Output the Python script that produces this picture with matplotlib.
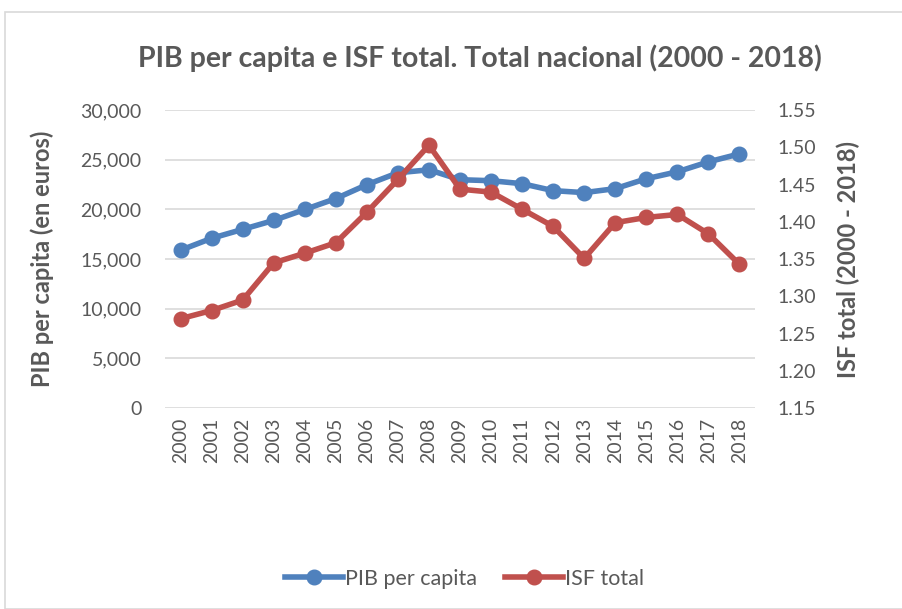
import matplotlib.pyplot as plt
from matplotlib.patches import Rectangle
from matplotlib.ticker import FuncFormatter

# Datos
anios = ['2000', '2001', '2002', '2003', '2004', '2005', '2006', '2007', '2008', '2009',
         '2010', '2011', '2012', '2013', '2014', '2015', '2016', '2017', '2018']
pib_per_capita = [15900, 17100, 18000, 18900, 20000, 21100, 22500, 23700, 24000, 23000,
                  22900, 22600, 21900, 21700, 22100, 23100, 23800, 24800, 25600]
isf_total = [1.270, 1.281, 1.295, 1.345, 1.358, 1.372, 1.413, 1.457, 1.503, 1.444,
             1.440, 1.417, 1.394, 1.351, 1.399, 1.406, 1.410, 1.384, 1.343]

plt.rcParams['font.family'] = ['Lato', 'DejaVu Sans']
gris = '#595959'
azul = '#4F81BD'
rojo = '#C0504D'

fig = plt.figure(figsize=(9.02, 6.09), dpi=100)
fig.patches.append(Rectangle((0.005, 0.0), 1.2, 0.98, transform=fig.transFigure,
                             fill=False, edgecolor='#D9D9D9', linewidth=1.2))

ax = fig.add_axes([0.183, 0.330, 0.654, 0.489])
ax2 = ax.twinx()

x = range(len(anios))
ax.plot(x, pib_per_capita, color=azul, linewidth=4, marker='o', markersize=10.5,
        label='PIB per capita', zorder=3)
ax2.plot(x, isf_total, color=rojo, linewidth=4, marker='o', markersize=10.5,
         label='ISF total', zorder=3)

ax.set_xlim(-0.5, len(anios) - 0.5)
ax.set_ylim(0, 30000)
ax.set_yticks(range(0, 30001, 5000))
ax.yaxis.set_major_formatter(FuncFormatter(lambda v, p: f'{int(v):,}'))
ax2.set_ylim(1.15, 1.55)
ax2.set_yticks([1.15, 1.20, 1.25, 1.30, 1.35, 1.40, 1.45, 1.50, 1.55])
ax2.yaxis.set_major_formatter(FuncFormatter(lambda v, p: f'{v:.2f}'))

ax.set_xticks(list(x))
ax.set_xticklabels(anios, rotation=90)

ax.grid(axis='y', color='#D9D9D9', linewidth=1.2)
ax.set_axisbelow(True)
for a in (ax, ax2):
    for s in a.spines.values():
        s.set_visible(False)
    a.tick_params(length=0, colors=gris, labelsize=14)
ax.tick_params(axis='y', pad=17)
ax2.tick_params(axis='y', pad=16)
ax.tick_params(axis='x', pad=7)

ax.set_ylabel('PIB per capita (en euros)', fontsize=17, fontweight='bold', color=gris, labelpad=19)
ax2.set_ylabel('ISF total (2000 - 2018)', fontsize=17, fontweight='bold', color=gris,
               rotation=90, labelpad=15)

fig.text(0.532, 0.905, 'PIB per capita e ISF total. Total nacional (2000 - 2018)',
         ha='center', va='center', fontsize=20.5, fontweight='bold', color=gris)

h1, l1 = ax.get_legend_handles_labels()
h2, l2 = ax2.get_legend_handles_labels()
fig.legend(h1 + h2, l1 + l2, loc='center', bbox_to_anchor=(0.515, 0.05), ncol=2,
           frameon=False, fontsize=15.5, labelcolor=gris, handlelength=2.7,
           handletextpad=0.1, columnspacing=1.3)

fig.savefig('out.png', dpi=100)
